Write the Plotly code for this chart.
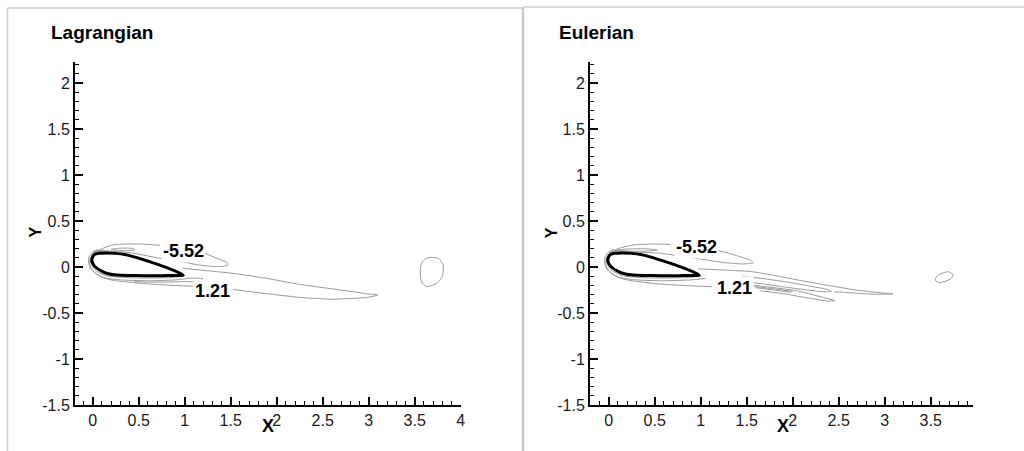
import plotly.graph_objects as go

# ---------------------------------------------------------------------------
# Airfoil surface (leading edge -> upper surface -> trailing edge -> lower)
# ---------------------------------------------------------------------------
AIRFOIL_X = [-0.01, 0.0, 0.02, 0.06, 0.15, 0.25, 0.35, 0.45, 0.6, 0.75, 0.88, 0.985,
             0.9, 0.75, 0.55, 0.4, 0.26, 0.15, 0.08, 0.03, 0.0, -0.01]
AIRFOIL_Y = [0.076, 0.11, 0.135, 0.148, 0.152, 0.148, 0.135, 0.11, 0.063, 0.013, -0.037, -0.088,
             -0.092, -0.094, -0.094, -0.092, -0.087, -0.068, -0.035, 0.0, 0.04, 0.076]

# ---------------------------------------------------------------------------
# Lagrangian vorticity isolines (None = gap left for the contour label)
# ---------------------------------------------------------------------------
LAG_NEG_X = [0.0, 0.08, 0.22, 0.51, 0.73, None, 1.22, 1.35, 1.46, 1.47, 1.35, 1.17, 0.97, 0.70, 0.44, 0.28, 0.15, 0.05, 0.0]
LAG_NEG_Y = [0.15, 0.19, 0.24, 0.25, 0.236, None, 0.149, 0.094, 0.047, 0.02, 0.004, 0.02, 0.055, 0.10, 0.15, 0.168, 0.175, 0.165, 0.14]

LAG_LENS_X = [0.2, 0.3, 0.44, 0.46, 0.33, 0.2]
LAG_LENS_Y = [0.19, 0.205, 0.2, 0.185, 0.178, 0.19]

LAG_WAKE_X = [0.06, 0.0, -0.04, -0.045, -0.02, 0.03, 0.1, 0.2, 0.44, 0.8, 1.09, None,
              1.53, 1.89, 2.25, 2.62, 2.98, 3.1, 2.98, 2.62, 2.25, 1.89, 1.53, 1.17, 0.98]
LAG_WAKE_Y = [0.19, 0.165, 0.11, 0.05, -0.02, -0.07, -0.11, -0.14, -0.17, -0.196, -0.21, None,
              -0.245, -0.29, -0.33, -0.35, -0.33, -0.305, -0.29, -0.24, -0.19, -0.123, -0.07, -0.033, -0.015]

LAG_BL1_X = [0.25, 0.1, 0.03, -0.015, -0.022, 0.0, 0.05, 0.15, 0.35, 0.6, 0.85, 0.99]
LAG_BL1_Y = [0.165, 0.172, 0.155, 0.11, 0.06, 0.0, -0.05, -0.095, -0.115, -0.12, -0.115, -0.1]

LAG_BL2_X = [0.12, 0.04, -0.01, -0.032, -0.025, 0.02, 0.12, 0.3, 0.6, 0.9, 1.1, 1.2, 1.15, 0.95, 0.7, 0.45]
LAG_BL2_Y = [0.185, 0.17, 0.13, 0.07, 0.0, -0.06, -0.115, -0.14, -0.15, -0.14, -0.12, -0.13, -0.155, -0.16, -0.165, -0.16]

LAG_BLOB_X = [3.573, 3.62, 3.666, 3.757, 3.81, 3.80, 3.74, 3.63, 3.573, 3.56, 3.573]
LAG_BLOB_Y = [0.04, 0.09, 0.105, 0.094, 0.022, -0.105, -0.177, -0.214, -0.16, -0.05, 0.04]

# ---------------------------------------------------------------------------
# Eulerian vorticity isolines
# ---------------------------------------------------------------------------
EUL_NEG_X = [0.0, 0.1, 0.28, 0.5, 0.67, None, 1.17, 1.37, 1.55, 1.57, 1.47, 1.26, 1.065, 0.775, 0.55, 0.35, 0.15, 0.03]
EUL_NEG_Y = [0.15, 0.2, 0.24, 0.25, 0.245, None, 0.185, 0.13, 0.068, 0.047, 0.033, 0.047, 0.076, 0.12, 0.15, 0.16, 0.165, 0.15]

EUL_LENS_X = [0.07, 0.2, 0.4, 0.53, 0.45, 0.25, 0.07]
EUL_LENS_Y = [0.18, 0.195, 0.198, 0.185, 0.175, 0.172, 0.18]

EUL_WAKE_X = [0.97, 1.2, 1.55, 1.79, 2.1, 2.39, 2.68, 2.9, 3.09, 2.9, 2.7, 2.55, 2.45]
EUL_WAKE_Y = [-0.02, -0.03, -0.05, -0.09, -0.15, -0.2, -0.25, -0.275, -0.293, -0.296, -0.285, -0.275, -0.27]

EUL_FORK_X = [1.45, 1.7, 1.95, 2.2, 2.38, 2.42, 2.35, 2.15, 1.9, 1.65, 1.4]
EUL_FORK_Y = [-0.1, -0.13, -0.165, -0.21, -0.245, -0.265, -0.27, -0.25, -0.215, -0.18, -0.15]

EUL_LOW_X = [0.06, 0.0, -0.04, -0.045, -0.02, 0.03, 0.1, 0.2, 0.5, 0.8, 1.12, None,
             1.58, 1.8, 2.05, 2.25, 2.46, 2.38, 2.15, 1.9, 1.65]
EUL_LOW_Y = [0.19, 0.165, 0.11, 0.05, -0.02, -0.07, -0.11, -0.14, -0.18, -0.2, -0.215, None,
             -0.2, -0.225, -0.26, -0.31, -0.366, -0.37, -0.335, -0.29, -0.26]

EUL_HATCH_X = [1.58, 1.8, 2.0, None, 1.6, 1.8, 1.98]
EUL_HATCH_Y = [-0.213, -0.238, -0.265, None, -0.225, -0.25, -0.275]

EUL_BL1_X = LAG_BL1_X
EUL_BL1_Y = LAG_BL1_Y
EUL_BL2_X = [0.12, 0.04, -0.01, -0.032, -0.025, 0.02, 0.12, 0.3, 0.6, 0.9, 1.05]
EUL_BL2_Y = [0.185, 0.17, 0.13, 0.07, 0.0, -0.06, -0.115, -0.14, -0.15, -0.14, -0.125]

EUL_BLOB_X = [3.547, 3.583, 3.69, 3.746, 3.71, 3.60, 3.547]
EUL_BLOB_Y = [-0.141, -0.087, -0.051, -0.087, -0.134, -0.17, -0.141]

# contour label values and their anchor points
LABELS_LAG = [("-5.52", 0.984, 0.176), ("1.21", 1.30, -0.259)]
LABELS_EUL = [("-5.52", 0.953, 0.221), ("1.21", 1.372, -0.232)]

# axis settings
X_TICKS_LAG = [0, 0.5, 1, 1.5, 2, 2.5, 3, 3.5, 4]
X_TICKS_EUL = [0, 0.5, 1, 1.5, 2, 2.5, 3, 3.5]
Y_TICKS = [-1.5, -1, -0.5, 0, 0.5, 1, 1.5, 2]

FONT = "Liberation Sans, Arial, Helvetica, sans-serif"
W, H = 1024, 451

fig = go.Figure()


def add_line(xs, ys, xa, ya, color="#9a9a9a", width=1.0):
    fig.add_trace(go.Scatter(
        x=xs, y=ys, xaxis=xa, yaxis=ya, mode="lines",
        line=dict(color=color, width=width, shape="spline", smoothing=0.6),
        connectgaps=False, hoverinfo="skip", showlegend=False))


lag_lines = [(LAG_NEG_X, LAG_NEG_Y), (LAG_LENS_X, LAG_LENS_Y), (LAG_WAKE_X, LAG_WAKE_Y),
             (LAG_BL1_X, LAG_BL1_Y), (LAG_BL2_X, LAG_BL2_Y), (LAG_BLOB_X, LAG_BLOB_Y)]
eul_lines = [(EUL_NEG_X, EUL_NEG_Y), (EUL_LENS_X, EUL_LENS_Y), (EUL_WAKE_X, EUL_WAKE_Y),
             (EUL_FORK_X, EUL_FORK_Y), (EUL_LOW_X, EUL_LOW_Y), (EUL_HATCH_X, EUL_HATCH_Y),
             (EUL_BL1_X, EUL_BL1_Y), (EUL_BL2_X, EUL_BL2_Y), (EUL_BLOB_X, EUL_BLOB_Y)]

for xs, ys in lag_lines:
    add_line(xs, ys, "x", "y")
for xs, ys in eul_lines:
    add_line(xs, ys, "x2", "y2")

# airfoil outline
add_line(AIRFOIL_X, AIRFOIL_Y, "x", "y", color="black", width=3)
add_line(AIRFOIL_X, AIRFOIL_Y, "x2", "y2", color="black", width=3)


def px(x):
    return x / W


def py(y):
    return 1 - y / H


axis_common = dict(
    showline=True, linecolor="black", linewidth=2, mirror=False,
    showgrid=False, zeroline=False, automargin=False,
    ticks="inside", ticklen=8, tickwidth=1.5, tickcolor="black",
    minor=dict(ticks="inside", ticklen=4, tickwidth=1, tickcolor="black", dtick=0.1),
    tickfont=dict(family=FONT, size=16, color="#1a1a1a"),
    fixedrange=True,
)

fig.update_layout(
    width=W, height=H, autosize=False,
    margin=dict(l=0, r=0, t=0, b=0, pad=0),
    paper_bgcolor="white", plot_bgcolor="white",
    xaxis=dict(domain=[px(75), px(461)], range=[-0.1924, 4.003], anchor="y",
               tickmode="array", tickvals=X_TICKS_LAG, ticktext=[f"{v:g}" for v in X_TICKS_LAG],
               **axis_common),
    yaxis=dict(domain=[py(405), py(62)], range=[-1.5, 2.228], anchor="x",
               tickmode="array", tickvals=Y_TICKS, ticktext=[f"{v:g}" for v in Y_TICKS],
               **axis_common),
    xaxis2=dict(domain=[px(590), px(973)], range=[-0.2033, 3.96], anchor="y2",
                tickmode="array", tickvals=X_TICKS_EUL, ticktext=[f"{v:g}" for v in X_TICKS_EUL],
                **axis_common),
    yaxis2=dict(domain=[py(405), py(62)], range=[-1.5, 2.228], anchor="x2",
                tickmode="array", tickvals=Y_TICKS, ticktext=[f"{v:g}" for v in Y_TICKS],
                **axis_common),
)

annotations = []
for text, x, y in LABELS_LAG:
    annotations.append(dict(x=x, y=y, xref="x", yref="y", text=f"<b>{text}</b>", showarrow=False,
                            font=dict(family=FONT, size=18, color="black"), bgcolor="white"))
for text, x, y in LABELS_EUL:
    annotations.append(dict(x=x, y=y, xref="x2", yref="y2", text=f"<b>{text}</b>", showarrow=False,
                            font=dict(family=FONT, size=18, color="black"), bgcolor="white"))

# panel titles
annotations.append(dict(x=px(49), y=py(33), xref="paper", yref="paper", xanchor="left", yanchor="middle",
                        text="<b>Lagrangian</b>", showarrow=False, font=dict(family=FONT, size=19, color="black")))
annotations.append(dict(x=px(557), y=py(33), xref="paper", yref="paper", xanchor="left", yanchor="middle",
                        text="<b>Eulerian</b>", showarrow=False, font=dict(family=FONT, size=19, color="black")))

# axis titles
for cx in (267.5, 782.5):
    annotations.append(dict(x=px(cx), y=py(426), xref="paper", yref="paper", xanchor="center", yanchor="middle",
                            text="<b>X</b>", showarrow=False, font=dict(family=FONT, size=18, color="black")))
for cx in (35, 551.7):
    annotations.append(dict(x=px(cx), y=py(232.5), xref="paper", yref="paper", xanchor="center", yanchor="middle",
                            text="<b>Y</b>", textangle=-90, showarrow=False,
                            font=dict(family=FONT, size=16, color="black")))
fig.update_layout(annotations=annotations)

# light panel frames
frame = dict(type="line", xref="paper", yref="paper", line=dict(color="#cccccc", width=1.5))
fig.update_layout(shapes=[
    dict(frame, x0=px(7.5), x1=px(7.5), y0=py(8), y1=-0.1),
    dict(frame, x0=px(7), x1=px(523), y0=py(8), y1=py(8)),
    dict(frame, x0=px(523), x1=px(523), y0=py(7), y1=-0.1, line=dict(color="#c8c8c8", width=2.5)),
    dict(frame, x0=px(523), x1=1.1, y0=py(7), y1=py(7)),
])

fig.write_html("out.html", config={"responsive": False, "displayModeBar": False},
               post_script="document.body.style.margin='0';")
